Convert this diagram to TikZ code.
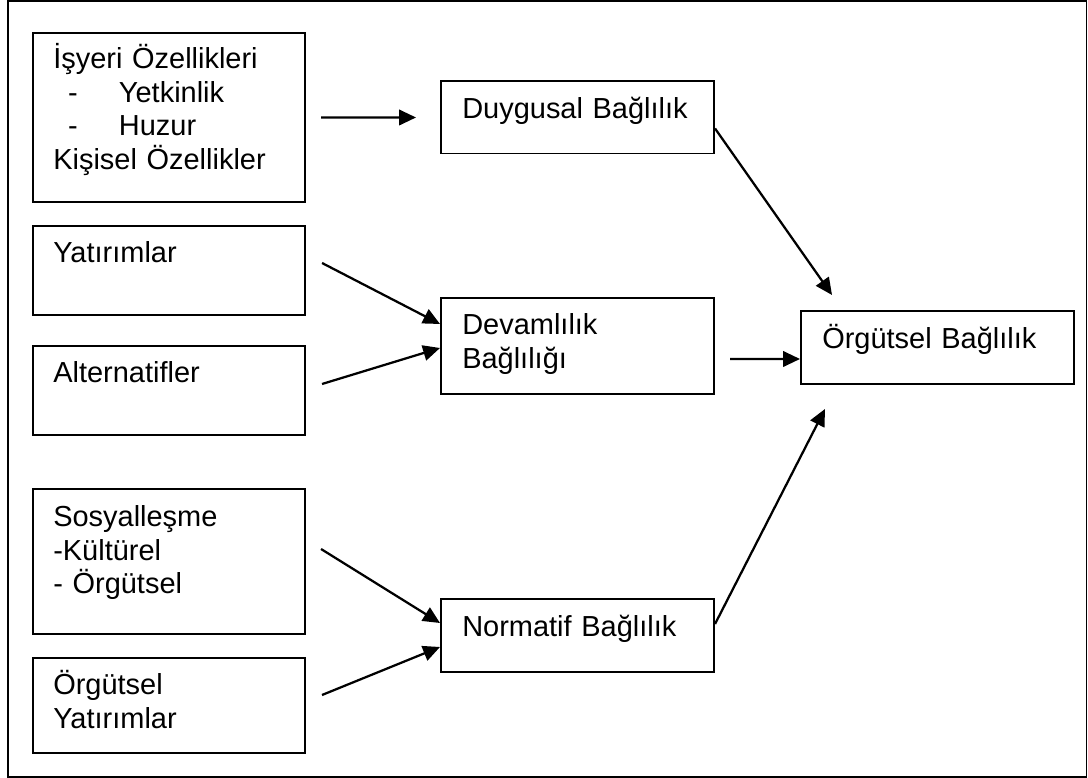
\documentclass[tikz,border=0pt]{standalone}
\usepackage{fontspec}
\setmainfont{Liberation Sans}
\usepackage{tikz}
\usetikzlibrary{arrows.meta}

\tikzset{
  kutu/.style={draw,line width=1.4pt,anchor=north west,
               minimum width=6.8cm,inner sep=0pt},
  yazi/.style={anchor=base west,inner sep=0pt,text width=6.2cm,align=left,
               font=\fontsize{20.6}{23.8}\selectfont},
  ok/.style={line width=1.6pt,-{Triangle[length=12pt,width=11pt]}}
}
\newcommand{\madde}[1]{\hspace*{10.5pt}\makebox[36.2pt][l]{-}#1}

\begin{document}
\begin{tikzpicture}[x=0.025cm,y=0.025cm]
  \useasboundingbox (0,0) rectangle (1088,778);
  %% Outer frame
  \draw[line width=1.3pt] (8,1) rectangle (1086.5,777);

  %% Left column
  \node[kutu,minimum height=4.225cm] (isyeri)     at (32,746) {};
  \node[kutu,minimum height=2.225cm] (yatirim)    at (32,553) {};
  \node[kutu,minimum height=2.225cm] (alternatif) at (32,433) {};
  \node[kutu,minimum height=3.625cm] (sosyal)     at (32,290) {};
  \node[kutu,minimum height=2.375cm] (orgyat)     at (32,121) {};

  \node[yazi] (isyeri-t) at ([shift={(21,-37)}]isyeri.north west)
    {İşyeri Özellikleri\\ \madde{Yetkinlik}\\ \madde{Huzur}\\ Kişisel Özellikler};
  \node[yazi] (yatirim-t) at ([shift={(21,-38)}]yatirim.north west) {Yatırımlar};
  \node[yazi] (alternatif-t) at ([shift={(21,-38)}]alternatif.north west)
    {Alternatifler};
  \node[yazi] (sosyal-t) at ([shift={(21,-39)}]sosyal.north west)
    {Sosyalleşme\\ -Kültürel\\ - Örgütsel};
  \node[yazi] (orgyat-t) at ([shift={(21,-38)}]orgyat.north west)
    {Örgütsel\\ Yatırımlar};

  %% Middle column
  \node[kutu,minimum width=6.825cm,minimum height=1.8cm]   (duygusal) at (440,697.5) {};
  \node[kutu,minimum width=6.825cm,minimum height=2.4cm]   (devam)    at (440,481) {};
  \node[kutu,minimum width=6.825cm,minimum height=1.825cm] (normatif) at (440,180) {};

  \node[yazi] (duygusal-t) at ([shift={(22,-38)}]duygusal.north west)
    {Duygusal Bağlılık};
  \node[yazi] (devam-t) at ([shift={(22,-38)}]devam.north west)
    {Devamlılık\\ Bağlılığı};
  \node[yazi] (normatif-t) at ([shift={(22,-39)}]normatif.north west)
    {Normatif Bağlılık};

  %% Right
  \node[kutu,minimum width=6.825cm,minimum height=1.825cm] (orgut) at (800,468) {};
  \node[yazi] (orgut-t) at ([shift={(22,-39)}]orgut.north west)
    {Örgütsel Bağlılık};

  %% Arrows
  \draw[ok] ([shift={(15,0)}]isyeri.east)      -- ([shift={(-24,0)}]duygusal.west);
  \draw[ok] ([shift={(16,7.5)}]yatirim.east)   -- ([shift={(0,22)}]devam.west);
  \draw[ok] ([shift={(16,6.5)}]alternatif.east)-- ([shift={(0,-2)}]devam.west);
  \draw[ok] ([shift={(15,12.5)}]sosyal.east)   -- ([shift={(0,12.5)}]normatif.west);
  \draw[ok] ([shift={(16,10.5)}]orgyat.east)   -- ([shift={(0,-11.5)}]normatif.west);
  \draw[ok] ([shift={(15,-13)}]devam.east)     -- ([shift={(0,-11.5)}]orgut.west);
  \draw[ok] ([shift={(0,-11)}]duygusal.east)   -- ([shift={(32,15)}]orgut.north west);
  \draw[ok] ([shift={(0,11.5)}]normatif.east)  -- ([shift={(25,-24)}]orgut.south west);
\end{tikzpicture}
\end{document}
